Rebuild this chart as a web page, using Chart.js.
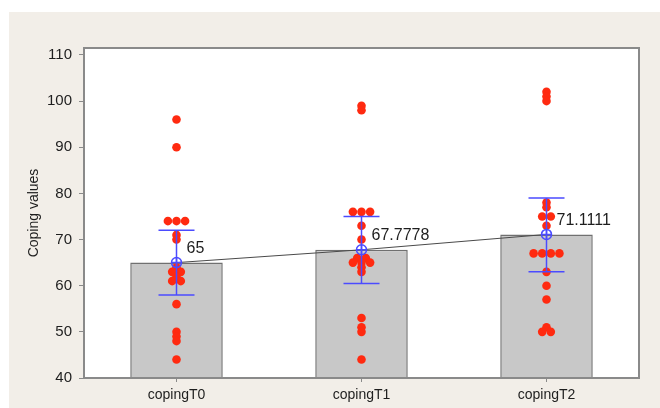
<!DOCTYPE html>
<html>
<head>
<meta charset="utf-8">
<script src="https://cdn.jsdelivr.net/npm/chart.js@4"></script>
<style>
  html, body { margin: 0; padding: 0; background: #ffffff; }
  #wrap { position: absolute; left: 9px; top: 12px; width: 651px; height: 396px; background: #f2eee8; }
</style>
</head>
<body>
<div id="wrap"><canvas id="coping-chart" width="651" height="396"></canvas></div>
<script>
const categories = ['copingT0', 'copingT1', 'copingT2'];
const meanValues = [65, 67.7778, 71.1111];
const ciLower = [58, 60.5, 63];
const ciUpper = [72, 75, 79];
const scoresT0 = [96, 90, 74, 74, 74, 71, 70, 64, 63, 63, 62, 61, 61, 56, 50, 49, 48, 44];
const scoresT1 = [99, 98, 76, 76, 76, 73, 70, 66, 66, 65, 65, 65, 64, 63, 53, 51, 50, 44];
const scoresT2 = [102, 101, 100, 78, 77, 75, 75, 73, 67, 67, 67, 67, 63, 60, 57, 51, 50, 50];
const yTicks = [40, 50, 60, 70, 80, 90, 100, 110];

const FONT = '"Liberation Sans", Arial, sans-serif';

// spread equal values side by side, like a dot plot
function dotPoints(scores, idx) {
  const step = 0.0465;
  const counts = {};
  scores.forEach(v => counts[v] = (counts[v] || 0) + 1);
  const seen = {};
  return scores.map(v => {
    const k = seen[v] || 0;
    seen[v] = k + 1;
    return { x: idx + (k - (counts[v] - 1) / 2) * step, y: v };
  });
}

const dots = [scoresT0, scoresT1, scoresT2].flatMap((s, i) => dotPoints(s, i));

const framePlugin = {
  id: 'frame',
  beforeDraw(chart) {
    const { ctx, chartArea: a } = chart;
    ctx.save();
    ctx.fillStyle = '#ffffff';
    ctx.fillRect(a.left, a.top, a.right - a.left, a.bottom - a.top);
    ctx.restore();
  },
  afterDatasetsDraw(chart) {
    const { ctx, chartArea: a, scales } = chart;
    const x = scales.x, y = scales.y;
    ctx.save();
    // error bars and mean markers
    ctx.strokeStyle = '#4b4bff';
    ctx.lineWidth = 1.5;
    meanValues.forEach((m, i) => {
      const px = x.getPixelForValue(i);
      const top = y.getPixelForValue(ciUpper[i]);
      const bot = y.getPixelForValue(ciLower[i]);
      const my = y.getPixelForValue(m);
      ctx.beginPath();
      ctx.moveTo(px, top); ctx.lineTo(px, bot);
      ctx.moveTo(px - 18, top); ctx.lineTo(px + 18, top);
      ctx.moveTo(px - 18, bot); ctx.lineTo(px + 18, bot);
      ctx.stroke();
      ctx.beginPath();
      ctx.arc(px, my, 5, 0, Math.PI * 2);
      ctx.moveTo(px - 5, my); ctx.lineTo(px + 5, my);
      ctx.moveTo(px, my - 5); ctx.lineTo(px, my + 5);
      ctx.stroke();
    });
    // mean labels
    ctx.fillStyle = '#1e1e1e';
    ctx.font = '16px ' + FONT;
    ctx.textBaseline = 'middle';
    ctx.textAlign = 'left';
    meanValues.forEach((m, i) => {
      ctx.fillText(String(m), x.getPixelForValue(i) + 10, y.getPixelForValue(m) - 14);
    });
    // plot frame
    ctx.strokeStyle = '#8a8a8a';
    ctx.lineWidth = 2;
    ctx.strokeRect(a.left, a.top, a.right - a.left, a.bottom - a.top);
    ctx.restore();
  }
};

new Chart(document.getElementById('coping-chart'), {
  data: {
    labels: categories,
    datasets: [
      {
        type: 'bar',
        data: meanValues,
        xAxisID: 'x',
        backgroundColor: '#c8c8c8',
        borderColor: '#707070',
        borderWidth: 1.5,
        barPercentage: 0.5,
        categoryPercentage: 1,
        grouped: false,
        order: 3
      },
      {
        type: 'line',
        data: meanValues,
        xAxisID: 'x',
        borderColor: '#4a4a4a',
        borderWidth: 1,
        pointRadius: 0,
        order: 2
      },
      {
        type: 'scatter',
        data: dots,
        xAxisID: 'xs',
        backgroundColor: '#ff2a10',
        borderWidth: 0,
        pointRadius: 4.3,
        order: 1
      }
    ]
  },
  options: {
    responsive: false,
    animation: false,
    layout: { padding: { top: 36, right: 21, left: 0, bottom: 0 } },
    plugins: { legend: { display: false }, tooltip: { enabled: false } },
    scales: {
      x: {
        type: 'category',
        offset: true,
        border: { display: false },
        grid: { offset: false, drawOnChartArea: false, tickLength: 4, color: '#8a8a8a' },
        ticks: { color: '#1e1e1e', font: { family: FONT, size: 14 }, padding: 5 },
        afterFit(scale) { scale.height = 30; }
      },
      xs: {
        type: 'linear',
        min: -0.5,
        max: 2.5,
        display: false
      },
      y: {
        min: 40,
        max: 111.5,
        border: { display: false },
        grid: { drawOnChartArea: false, tickLength: 5, color: '#8a8a8a' },
        ticks: { stepSize: 10, color: '#1e1e1e', font: { family: FONT, size: 15 }, padding: 7 },
        afterBuildTicks(scale) {
          scale.ticks = yTicks.map(v => ({ value: v }));
        },
        afterFit(scale) { scale.width = 75; },
        title: {
          display: true,
          text: 'Coping values',
          color: '#1e1e1e',
          font: { family: FONT, size: 14 },
          padding: { top: 17, bottom: 0 }
        }
      }
    }
  },
  plugins: [framePlugin]
});
</script>
</body>
</html>
